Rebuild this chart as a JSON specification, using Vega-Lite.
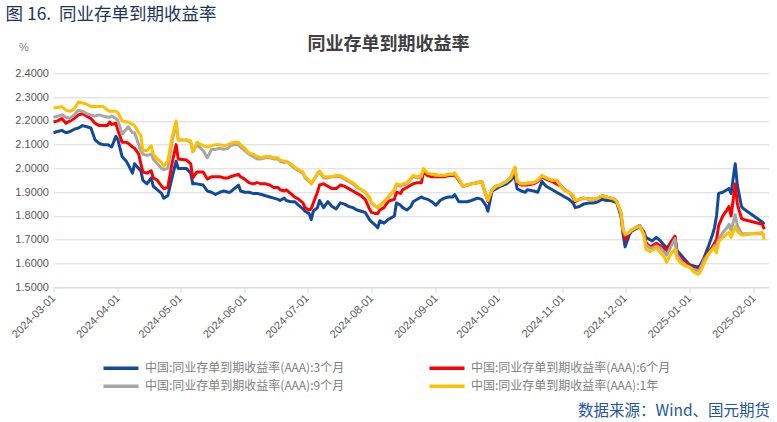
{
"$schema": "https://vega.github.io/schema/vega-lite/v6.json",
"width": 715, "height": 214,
"autosize": {"type": "none"},
"padding": {"left": 53.5, "top": 73.3, "right": 8.5, "bottom": 134.7},
"background": "white",
"title": {"text": "图 16.\u00a0\u00a0同业存单到期收益率", "anchor": "start", "frame": "group", "dx": -48, "dy": -4, "offset": 8, "fontSize": 17.5, "font": "Noto Sans CJK SC", "fontWeight": "normal", "color": "#1d3461"},
"config": {"view": {"stroke": null}},
"data": {"values": [
{"d":"2024-03-01","m3":2.15,"m6":2.195,"m9":2.215,"y1":2.255},
{"d":"2024-03-03","m3":2.155,"m6":2.2,"m9":2.22,"y1":2.255},
{"d":"2024-03-05","m3":2.16,"m6":2.21,"m9":2.225,"y1":2.26},
{"d":"2024-03-07","m3":2.15,"m6":2.19,"m9":2.215,"y1":2.245},
{"d":"2024-03-09","m3":2.155,"m6":2.2,"m9":2.21,"y1":2.24},
{"d":"2024-03-11","m3":2.165,"m6":2.21,"m9":2.225,"y1":2.25},
{"d":"2024-03-13","m3":2.17,"m6":2.225,"m9":2.245,"y1":2.28},
{"d":"2024-03-15","m3":2.18,"m6":2.23,"m9":2.24,"y1":2.275},
{"d":"2024-03-17","m3":2.175,"m6":2.22,"m9":2.23,"y1":2.27},
{"d":"2024-03-19","m3":2.17,"m6":2.21,"m9":2.225,"y1":2.26},
{"d":"2024-03-21","m3":2.12,"m6":2.19,"m9":2.22,"y1":2.26},
{"d":"2024-03-23","m3":2.105,"m6":2.18,"m9":2.225,"y1":2.26},
{"d":"2024-03-25","m3":2.1,"m6":2.18,"m9":2.22,"y1":2.26},
{"d":"2024-03-27","m3":2.1,"m6":2.18,"m9":2.215,"y1":2.245},
{"d":"2024-03-28","m3":2.095,"m6":2.195,"m9":2.215,"y1":2.24},
{"d":"2024-03-29","m3":2.09,"m6":2.185,"m9":2.22,"y1":2.24},
{"d":"2024-03-31","m3":2.135,"m6":2.19,"m9":2.21,"y1":2.24},
{"d":"2024-04-01","m3":2.12,"m6":2.16,"m9":2.2,"y1":2.235},
{"d":"2024-04-03","m3":2.05,"m6":2.11,"m9":2.145,"y1":2.2},
{"d":"2024-04-05","m3":2.03,"m6":2.11,"m9":2.165,"y1":2.195},
{"d":"2024-04-06","m3":2.015,"m6":2.105,"m9":2.175,"y1":2.195},
{"d":"2024-04-08","m3":1.98,"m6":2.09,"m9":2.15,"y1":2.185},
{"d":"2024-04-09","m3":2.02,"m6":2.085,"m9":2.15,"y1":2.18},
{"d":"2024-04-11","m3":2.0,"m6":2.06,"m9":2.1,"y1":2.15},
{"d":"2024-04-12","m3":1.99,"m6":2.02,"m9":2.075,"y1":2.14},
{"d":"2024-04-13","m3":1.95,"m6":1.985,"m9":2.06,"y1":2.075},
{"d":"2024-04-15","m3":1.935,"m6":1.98,"m9":2.055,"y1":2.075},
{"d":"2024-04-17","m3":1.96,"m6":1.99,"m9":2.06,"y1":2.095},
{"d":"2024-04-18","m3":1.925,"m6":1.96,"m9":2.04,"y1":2.06},
{"d":"2024-04-20","m3":1.91,"m6":1.95,"m9":2.02,"y1":2.04},
{"d":"2024-04-22","m3":1.895,"m6":1.925,"m9":2.0,"y1":2.025},
{"d":"2024-04-23","m3":1.875,"m6":1.915,"m9":1.995,"y1":2.01},
{"d":"2024-04-25","m3":1.885,"m6":1.92,"m9":2.0,"y1":2.03},
{"d":"2024-04-27","m3":1.96,"m6":2.02,"m9":2.11,"y1":2.13},
{"d":"2024-04-29","m3":2.03,"m6":2.1,"m9":2.19,"y1":2.2},
{"d":"2024-04-30","m3":2.0,"m6":2.04,"m9":2.12,"y1":2.12},
{"d":"2024-05-04","m3":2.0,"m6":2.035,"m9":2.12,"y1":2.12},
{"d":"2024-05-06","m3":1.98,"m6":2.02,"m9":2.11,"y1":2.115},
{"d":"2024-05-07","m3":1.935,"m6":1.96,"m9":2.07,"y1":2.07},
{"d":"2024-05-09","m3":1.935,"m6":1.985,"m9":2.1,"y1":2.11},
{"d":"2024-05-12","m3":1.93,"m6":1.985,"m9":2.075,"y1":2.095},
{"d":"2024-05-14","m3":1.905,"m6":1.955,"m9":2.045,"y1":2.09},
{"d":"2024-05-16","m3":1.9,"m6":1.965,"m9":2.08,"y1":2.095},
{"d":"2024-05-18","m3":1.89,"m6":1.965,"m9":2.08,"y1":2.1},
{"d":"2024-05-20","m3":1.9,"m6":1.965,"m9":2.085,"y1":2.1},
{"d":"2024-05-22","m3":1.905,"m6":1.96,"m9":2.08,"y1":2.095},
{"d":"2024-05-24","m3":1.9,"m6":1.96,"m9":2.085,"y1":2.1},
{"d":"2024-05-25","m3":1.9,"m6":1.965,"m9":2.095,"y1":2.105},
{"d":"2024-05-27","m3":1.915,"m6":1.97,"m9":2.1,"y1":2.11},
{"d":"2024-05-29","m3":1.93,"m6":1.975,"m9":2.1,"y1":2.11},
{"d":"2024-05-30","m3":1.905,"m6":1.965,"m9":2.09,"y1":2.1},
{"d":"2024-06-01","m3":1.9,"m6":1.955,"m9":2.075,"y1":2.085},
{"d":"2024-06-03","m3":1.9,"m6":1.94,"m9":2.06,"y1":2.065},
{"d":"2024-06-05","m3":1.895,"m6":1.935,"m9":2.05,"y1":2.06},
{"d":"2024-06-07","m3":1.895,"m6":1.94,"m9":2.04,"y1":2.05},
{"d":"2024-06-09","m3":1.89,"m6":1.935,"m9":2.04,"y1":2.045},
{"d":"2024-06-11","m3":1.885,"m6":1.935,"m9":2.045,"y1":2.05},
{"d":"2024-06-13","m3":1.88,"m6":1.93,"m9":2.045,"y1":2.05},
{"d":"2024-06-15","m3":1.875,"m6":1.92,"m9":2.04,"y1":2.045},
{"d":"2024-06-17","m3":1.87,"m6":1.92,"m9":2.04,"y1":2.045},
{"d":"2024-06-18","m3":1.865,"m6":1.91,"m9":2.03,"y1":2.035},
{"d":"2024-06-20","m3":1.875,"m6":1.905,"m9":2.025,"y1":2.03},
{"d":"2024-06-21","m3":1.865,"m6":1.91,"m9":2.03,"y1":2.03},
{"d":"2024-06-23","m3":1.86,"m6":1.895,"m9":2.015,"y1":2.02},
{"d":"2024-06-25","m3":1.86,"m6":1.88,"m9":2.0,"y1":2.005},
{"d":"2024-06-27","m3":1.845,"m6":1.87,"m9":1.99,"y1":1.995},
{"d":"2024-06-29","m3":1.83,"m6":1.855,"m9":1.98,"y1":1.985},
{"d":"2024-06-30","m3":1.82,"m6":1.835,"m9":1.96,"y1":1.965},
{"d":"2024-07-02","m3":1.81,"m6":1.825,"m9":1.945,"y1":1.95},
{"d":"2024-07-03","m3":1.785,"m6":1.83,"m9":1.935,"y1":1.935},
{"d":"2024-07-04","m3":1.82,"m6":1.855,"m9":1.95,"y1":1.95},
{"d":"2024-07-06","m3":1.835,"m6":1.9,"m9":1.975,"y1":1.98},
{"d":"2024-07-07","m3":1.865,"m6":1.93,"m9":1.985,"y1":1.99},
{"d":"2024-07-09","m3":1.835,"m6":1.935,"m9":1.96,"y1":1.965},
{"d":"2024-07-11","m3":1.86,"m6":1.925,"m9":1.96,"y1":1.965},
{"d":"2024-07-13","m3":1.84,"m6":1.915,"m9":1.965,"y1":1.965},
{"d":"2024-07-15","m3":1.83,"m6":1.915,"m9":1.965,"y1":1.97},
{"d":"2024-07-17","m3":1.855,"m6":1.93,"m9":1.965,"y1":1.97},
{"d":"2024-07-19","m3":1.85,"m6":1.925,"m9":1.955,"y1":1.96},
{"d":"2024-07-21","m3":1.84,"m6":1.915,"m9":1.945,"y1":1.95},
{"d":"2024-07-23","m3":1.835,"m6":1.905,"m9":1.935,"y1":1.94},
{"d":"2024-07-25","m3":1.825,"m6":1.895,"m9":1.92,"y1":1.925},
{"d":"2024-07-27","m3":1.82,"m6":1.885,"m9":1.91,"y1":1.91},
{"d":"2024-07-29","m3":1.815,"m6":1.87,"m9":1.9,"y1":1.9},
{"d":"2024-07-31","m3":1.785,"m6":1.83,"m9":1.875,"y1":1.88},
{"d":"2024-08-01","m3":1.775,"m6":1.815,"m9":1.855,"y1":1.855},
{"d":"2024-08-03","m3":1.76,"m6":1.81,"m9":1.84,"y1":1.84},
{"d":"2024-08-04","m3":1.75,"m6":1.81,"m9":1.835,"y1":1.835},
{"d":"2024-08-05","m3":1.78,"m6":1.825,"m9":1.845,"y1":1.845},
{"d":"2024-08-07","m3":1.77,"m6":1.835,"m9":1.86,"y1":1.86},
{"d":"2024-08-09","m3":1.785,"m6":1.86,"m9":1.875,"y1":1.88},
{"d":"2024-08-10","m3":1.79,"m6":1.865,"m9":1.89,"y1":1.89},
{"d":"2024-08-12","m3":1.8,"m6":1.87,"m9":1.905,"y1":1.91},
{"d":"2024-08-13","m3":1.855,"m6":1.9,"m9":1.93,"y1":1.935},
{"d":"2024-08-15","m3":1.845,"m6":1.895,"m9":1.925,"y1":1.93},
{"d":"2024-08-16","m3":1.835,"m6":1.91,"m9":1.93,"y1":1.935},
{"d":"2024-08-18","m3":1.825,"m6":1.92,"m9":1.935,"y1":1.94},
{"d":"2024-08-20","m3":1.84,"m6":1.93,"m9":1.955,"y1":1.96},
{"d":"2024-08-21","m3":1.86,"m6":1.935,"m9":1.965,"y1":1.97},
{"d":"2024-08-23","m3":1.87,"m6":1.94,"m9":1.96,"y1":1.965},
{"d":"2024-08-25","m3":1.88,"m6":1.94,"m9":1.965,"y1":1.97},
{"d":"2024-08-26","m3":1.875,"m6":1.985,"m9":1.995,"y1":2.0},
{"d":"2024-08-28","m3":1.87,"m6":1.97,"m9":1.98,"y1":1.98},
{"d":"2024-08-30","m3":1.86,"m6":1.965,"m9":1.975,"y1":1.975},
{"d":"2024-09-01","m3":1.845,"m6":1.965,"m9":1.97,"y1":1.975},
{"d":"2024-09-03","m3":1.865,"m6":1.965,"m9":1.97,"y1":1.97},
{"d":"2024-09-05","m3":1.875,"m6":1.965,"m9":1.97,"y1":1.97},
{"d":"2024-09-07","m3":1.88,"m6":1.97,"m9":1.975,"y1":1.975},
{"d":"2024-09-09","m3":1.88,"m6":1.97,"m9":1.975,"y1":1.975},
{"d":"2024-09-10","m3":1.89,"m6":1.975,"m9":1.98,"y1":1.98},
{"d":"2024-09-12","m3":1.86,"m6":1.95,"m9":1.955,"y1":1.955},
{"d":"2024-09-14","m3":1.86,"m6":1.925,"m9":1.925,"y1":1.925},
{"d":"2024-09-16","m3":1.86,"m6":1.93,"m9":1.93,"y1":1.93},
{"d":"2024-09-18","m3":1.865,"m6":1.935,"m9":1.935,"y1":1.935},
{"d":"2024-09-21","m3":1.875,"m6":1.94,"m9":1.94,"y1":1.94},
{"d":"2024-09-23","m3":1.87,"m6":1.945,"m9":1.945,"y1":1.945},
{"d":"2024-09-25","m3":1.845,"m6":1.89,"m9":1.89,"y1":1.89},
{"d":"2024-09-26","m3":1.82,"m6":1.86,"m9":1.865,"y1":1.865},
{"d":"2024-09-28","m3":1.905,"m6":1.91,"m9":1.91,"y1":1.91},
{"d":"2024-09-30","m3":1.915,"m6":1.925,"m9":1.925,"y1":1.925},
{"d":"2024-10-02","m3":1.925,"m6":1.93,"m9":1.93,"y1":1.93},
{"d":"2024-10-05","m3":1.935,"m6":1.945,"m9":1.945,"y1":1.945},
{"d":"2024-10-07","m3":1.95,"m6":1.96,"m9":1.96,"y1":1.96},
{"d":"2024-10-09","m3":1.97,"m6":2.0,"m9":2.005,"y1":2.005},
{"d":"2024-10-10","m3":1.915,"m6":1.94,"m9":1.945,"y1":1.95},
{"d":"2024-10-12","m3":1.905,"m6":1.93,"m9":1.935,"y1":1.935},
{"d":"2024-10-14","m3":1.9,"m6":1.93,"m9":1.935,"y1":1.935},
{"d":"2024-10-15","m3":1.91,"m6":1.93,"m9":1.935,"y1":1.94},
{"d":"2024-10-18","m3":1.905,"m6":1.935,"m9":1.94,"y1":1.94},
{"d":"2024-10-20","m3":1.9,"m6":1.945,"m9":1.95,"y1":1.95},
{"d":"2024-10-22","m3":1.945,"m6":1.965,"m9":1.97,"y1":1.97},
{"d":"2024-10-24","m3":1.925,"m6":1.955,"m9":1.96,"y1":1.96},
{"d":"2024-10-27","m3":1.91,"m6":1.945,"m9":1.95,"y1":1.95},
{"d":"2024-10-29","m3":1.9,"m6":1.935,"m9":1.95,"y1":1.95},
{"d":"2024-10-31","m3":1.89,"m6":1.925,"m9":1.93,"y1":1.925},
{"d":"2024-11-02","m3":1.88,"m6":1.91,"m9":1.91,"y1":1.905},
{"d":"2024-11-04","m3":1.87,"m6":1.9,"m9":1.9,"y1":1.9},
{"d":"2024-11-06","m3":1.855,"m6":1.88,"m9":1.885,"y1":1.885},
{"d":"2024-11-07","m3":1.835,"m6":1.86,"m9":1.865,"y1":1.865},
{"d":"2024-11-09","m3":1.84,"m6":1.87,"m9":1.87,"y1":1.87},
{"d":"2024-11-11","m3":1.85,"m6":1.875,"m9":1.875,"y1":1.875},
{"d":"2024-11-14","m3":1.855,"m6":1.87,"m9":1.87,"y1":1.87},
{"d":"2024-11-16","m3":1.855,"m6":1.87,"m9":1.87,"y1":1.87},
{"d":"2024-11-18","m3":1.86,"m6":1.875,"m9":1.875,"y1":1.875},
{"d":"2024-11-20","m3":1.87,"m6":1.885,"m9":1.885,"y1":1.885},
{"d":"2024-11-22","m3":1.865,"m6":1.88,"m9":1.88,"y1":1.88},
{"d":"2024-11-24","m3":1.865,"m6":1.875,"m9":1.875,"y1":1.875},
{"d":"2024-11-26","m3":1.86,"m6":1.87,"m9":1.87,"y1":1.87},
{"d":"2024-11-27","m3":1.855,"m6":1.86,"m9":1.86,"y1":1.86},
{"d":"2024-11-29","m3":1.8,"m6":1.81,"m9":1.815,"y1":1.815},
{"d":"2024-11-30","m3":1.725,"m6":1.74,"m9":1.745,"y1":1.74},
{"d":"2024-12-01","m3":1.67,"m6":1.7,"m9":1.72,"y1":1.725},
{"d":"2024-12-03","m3":1.72,"m6":1.73,"m9":1.73,"y1":1.73},
{"d":"2024-12-04","m3":1.735,"m6":1.74,"m9":1.74,"y1":1.74},
{"d":"2024-12-06","m3":1.745,"m6":1.75,"m9":1.75,"y1":1.75},
{"d":"2024-12-08","m3":1.755,"m6":1.76,"m9":1.76,"y1":1.755},
{"d":"2024-12-10","m3":1.735,"m6":1.73,"m9":1.725,"y1":1.72},
{"d":"2024-12-11","m3":1.71,"m6":1.69,"m9":1.68,"y1":1.66},
{"d":"2024-12-13","m3":1.7,"m6":1.67,"m9":1.665,"y1":1.65},
{"d":"2024-12-14","m3":1.695,"m6":1.675,"m9":1.665,"y1":1.655},
{"d":"2024-12-16","m3":1.71,"m6":1.685,"m9":1.675,"y1":1.665},
{"d":"2024-12-18","m3":1.695,"m6":1.675,"m9":1.665,"y1":1.645},
{"d":"2024-12-20","m3":1.675,"m6":1.66,"m9":1.645,"y1":1.625},
{"d":"2024-12-21","m3":1.665,"m6":1.655,"m9":1.635,"y1":1.605},
{"d":"2024-12-23","m3":1.685,"m6":1.69,"m9":1.67,"y1":1.64},
{"d":"2024-12-25","m3":1.71,"m6":1.715,"m9":1.705,"y1":1.66},
{"d":"2024-12-26","m3":1.655,"m6":1.64,"m9":1.635,"y1":1.62},
{"d":"2024-12-28","m3":1.635,"m6":1.62,"m9":1.61,"y1":1.6},
{"d":"2024-12-30","m3":1.615,"m6":1.605,"m9":1.595,"y1":1.59},
{"d":"2025-01-01","m3":1.595,"m6":1.59,"m9":1.585,"y1":1.585},
{"d":"2025-01-03","m3":1.59,"m6":1.58,"m9":1.575,"y1":1.565},
{"d":"2025-01-05","m3":1.585,"m6":1.575,"m9":1.57,"y1":1.555},
{"d":"2025-01-06","m3":1.59,"m6":1.58,"m9":1.575,"y1":1.56},
{"d":"2025-01-08","m3":1.625,"m6":1.62,"m9":1.615,"y1":1.6},
{"d":"2025-01-10","m3":1.67,"m6":1.645,"m9":1.64,"y1":1.635},
{"d":"2025-01-12","m3":1.72,"m6":1.67,"m9":1.66,"y1":1.66},
{"d":"2025-01-13","m3":1.75,"m6":1.685,"m9":1.675,"y1":1.665},
{"d":"2025-01-14","m3":1.8,"m6":1.7,"m9":1.68,"y1":1.645},
{"d":"2025-01-15","m3":1.895,"m6":1.76,"m9":1.7,"y1":1.69},
{"d":"2025-01-17","m3":1.9,"m6":1.8,"m9":1.73,"y1":1.71},
{"d":"2025-01-19","m3":1.91,"m6":1.825,"m9":1.75,"y1":1.725},
{"d":"2025-01-20","m3":1.915,"m6":1.84,"m9":1.765,"y1":1.73},
{"d":"2025-01-21","m3":1.895,"m6":1.8,"m9":1.74,"y1":1.71},
{"d":"2025-01-23","m3":2.02,"m6":1.935,"m9":1.805,"y1":1.755},
{"d":"2025-01-24","m3":1.93,"m6":1.85,"m9":1.76,"y1":1.735},
{"d":"2025-01-26","m3":1.84,"m6":1.79,"m9":1.725,"y1":1.72},
{"d":"2025-01-27","m3":1.83,"m6":1.785,"m9":1.725,"y1":1.72},
{"d":"2025-02-05","m3":1.775,"m6":1.765,"m9":1.725,"y1":1.73},
{"d":"2025-02-06","m3":1.765,"m6":1.745,"m9":1.72,"y1":1.7}
]},
"transform": [{"fold": ["m3", "m6", "m9", "y1"], "as": ["s", "v"]}],
"resolve": {"axis": {"x": "independent"}},
"encoding": {
"y": {"field": "v", "type": "quantitative",
 "scale": {"domain": [1.5, 2.4], "nice": false, "zero": false},
 "axis": {"values": [1.5, 1.6, 1.7, 1.8, 1.9, 2.0, 2.1, 2.2, 2.3, 2.4], "format": ".4f", "labelOverlap": false, "labelSeparation": 0, "labelColor": "#595959", "labelFontSize": 11, "labelFont": "Liberation Sans", "labelPadding": 5, "domain": false, "ticks": false, "gridColor": "#d9d9d9",
 "title": "%", "titleAngle": 0, "titleX": -30, "titleY": -26, "titleAlign": "center", "titleBaseline": "middle", "titleFontWeight": "normal", "titleFontSize": 11, "titleColor": "#7f7f7f", "titleFont": "Liberation Sans"}}
},
"layer": [
{
"mark": {"type": "line", "strokeWidth": 3, "strokeJoin": "round"},
"encoding": {
"x": {"field": "d", "type": "temporal",
 "scale": {"type": "utc", "domain": [{"year": 2024, "month": 3, "date": 1, "utc": true}, {"year": 2025, "month": 2, "date": 8, "utc": true}]},
 "axis": {"orient": "bottom", "labelExpr": "utcFormat(datum.value, '%Y-%m-%d')", "tickCount": {"interval": "month", "step": 1}, "labelAngle": -45, "labelAlign": "right", "labelBaseline": "middle", "labelColor": "#595959", "labelFontSize": 11, "labelFont": "Liberation Sans", "labelPadding": 4, "labelFlush": false, "labelOverlap": false, "grid": false, "domainColor": "#d9d9d9", "tickColor": "#d9d9d9", "tickSize": 5,
 "title": "数据来源：Wind、国元期货", "titleX": 716, "titleY": 123, "titleAlign": "right", "titleAnchor": null, "titleBaseline": "middle", "titleFontSize": 15.5, "titleColor": "#2255a4", "titleFontWeight": "normal", "titleFont": "Noto Sans CJK SC"}},
"color": {"field": "s", "type": "nominal",
 "scale": {"domain": ["m3", "m6", "m9", "y1"], "range": ["#114a9c", "#ff0000", "#a6a6a6", "#ffc000"]},
 "legend": {"orient": "none", "legendX": 61.5, "legendY": 289, "columns": 2, "direction": "horizontal", "title": null, "symbolType": "M-5,0H5", "symbolStrokeWidth": 3.5, "symbolSize": 49, "labelFontSize": 12, "labelColor": "#808080", "labelFont": "Noto Sans CJK SC", "labelOffset": 18, "columnPadding": 77, "rowPadding": 4, "labelLimit": 400,
 "labelExpr": "datum.label == 'm3' ? '中国:同业存单到期收益率(AAA):3个月' : datum.label == 'm6' ? '中国:同业存单到期收益率(AAA):6个月' : datum.label == 'm9' ? '中国:同业存单到期收益率(AAA):9个月' : '中国:同业存单到期收益率(AAA):1年'"}}
}
},
{
"mark": {"type": "line", "opacity": 0},
"encoding": {
"x": {"field": "d", "type": "temporal",
 "scale": {"type": "utc", "domain": [{"year": 2024, "month": 3, "date": 1, "utc": true}, {"year": 2025, "month": 2, "date": 8, "utc": true}]},
 "axis": {"orient": "top", "labels": false, "ticks": false, "domain": false, "grid": false, "title": "同业存单到期收益率", "titleFontSize": 18, "titleFontWeight": "bold", "titleColor": "#404040", "titleFont": "Noto Sans CJK SC", "titleX": 334.5, "titleY": -29, "titleAlign": "center", "titleAnchor": null, "titleBaseline": "middle"}}
}
}
]
}
